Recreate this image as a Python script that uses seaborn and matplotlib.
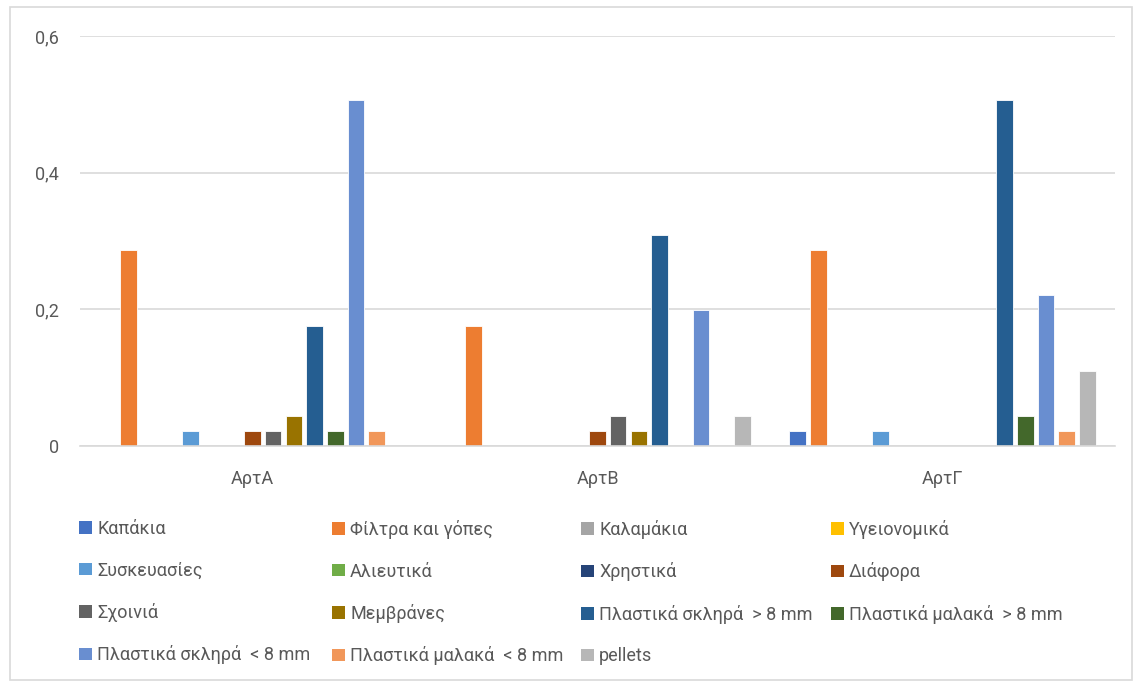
import matplotlib
matplotlib.use("Agg")
import matplotlib.pyplot as plt
import seaborn as sns
import pandas as pd
from matplotlib.patches import Rectangle

sites = ["ΑρτΑ", "ΑρτΒ", "ΑρτΓ"]
categories = ["Καπάκια", "Φίλτρα και γόπες", "Καλαμάκια", "Υγειονομικά",
              "Συσκευασίες", "Αλιευτικά", "Χρηστικά", "Διάφορα",
              "Σχοινιά", "Μεμβράνες", "Πλαστικά σκληρά  > 8 mm", "Πλαστικά μαλακά  > 8 mm",
              "Πλαστικά σκληρά  < 8 mm", "Πλαστικά μαλακά  < 8 mm", "pellets"]
values_A = [0, 0.287, 0, 0, 0.022, 0, 0, 0.022, 0.022, 0.044, 0.176, 0.022, 0.507, 0.022, 0]
values_B = [0, 0.176, 0, 0, 0, 0, 0, 0.022, 0.044, 0.022, 0.309, 0, 0.199, 0, 0.044]
values_G = [0.022, 0.287, 0, 0, 0.022, 0, 0, 0, 0, 0, 0.507, 0.044, 0.221, 0.022, 0.110]
colors = ["#4472C4", "#ED7D31", "#A5A5A5", "#FFC000", "#5B9BD5", "#70AD47",
          "#264478", "#9E480E", "#636363", "#997300", "#255E91", "#43682B",
          "#698ED0", "#F1975A", "#B7B7B7"]
yticks = [0, 0.2, 0.4, 0.6]
ytick_labels = ["0", "0,2", "0,4", "0,6"]

rows = []
for site, vals in zip(sites, [values_A, values_B, values_G]):
    for c, v in zip(categories, vals):
        rows.append({"site": site, "category": c, "value": v})
df = pd.DataFrame(rows)

sns.set_theme(style="white")
plt.rcParams['font.family'] = ['Roboto', 'DejaVu Sans']
text_color = "#595959"
grid_color = "#D9D9D9"
fs = 13

fig = plt.figure(figsize=(11.35, 6.84), dpi=100)
ax = fig.add_axes([80 / 1135, 1 - 446 / 684, (1115 - 80) / 1135, (446 - 36) / 684])

sns.barplot(data=df, x="site", y="value", hue="category", order=sites,
            hue_order=categories, palette=colors, width=0.9, gap=0.2,
            edgecolor="white", linewidth=0.6, saturation=1, ax=ax, zorder=2)

handles, labels = ax.get_legend_handles_labels()
ax.get_legend().remove()

ax.set_ylim(0, 0.6)
ax.set_xlim(-0.5, 2.5)
ax.set_yticks(yticks)
ax.set_yticklabels(ytick_labels)
ax.set_xlabel("")
ax.set_ylabel("")
ax.yaxis.grid(True, color=grid_color, linewidth=1.2, zorder=0)
ax.set_axisbelow(True)
for s in ["top", "right", "left"]:
    ax.spines[s].set_visible(False)
ax.spines["bottom"].set_color(grid_color)
ax.spines["bottom"].set_linewidth(1.2)
ax.spines["bottom"].set_zorder(3)
ax.tick_params(axis="both", length=0, labelsize=fs, labelcolor=text_color)
ax.tick_params(axis="x", pad=17)
ax.tick_params(axis="y", pad=15)

col_x = [79, 332, 581, 831]
for j in range(4):
    idx = list(range(j, len(categories), 4))
    leg = fig.legend([handles[i] for i in idx], [labels[i] for i in idx],
                     ncol=1, loc="upper left",
                     bbox_to_anchor=(col_x[j] / 1135, 1 - 520 / 684),
                     frameon=False, fontsize=fs, handlelength=0.7, handleheight=0.7,
                     handletextpad=0.3, labelspacing=1.3, borderaxespad=0,
                     borderpad=0)
    for t in leg.get_texts():
        t.set_color(text_color)
    for h in leg.legend_handles:
        h.set_edgecolor("none")

fig.patches.append(Rectangle((10 / 1135, 4 / 684), 1122 / 1135, 673 / 684,
                             transform=fig.transFigure, fill=False,
                             edgecolor=grid_color, linewidth=1.2))

fig.savefig("out.png", dpi=100, facecolor="white")
